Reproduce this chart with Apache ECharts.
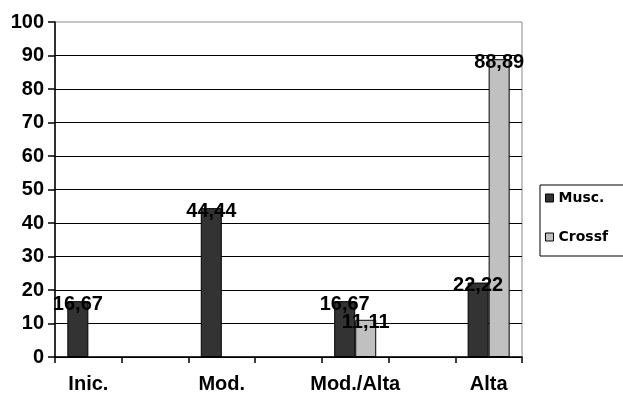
<!DOCTYPE html>
<html><head><meta charset="utf-8">
<script src="https://cdn.jsdelivr.net/npm/echarts@6/dist/echarts.min.js"></script>
<style>html,body{margin:0;padding:0;background:#fff}#c{width:623px;height:394px}</style>
</head><body><div id="c"></div>
<script>
const categories = ['Inic.', '', 'Mod.', '', 'Mod./Alta', '', 'Alta'];
const musc = [16.67, null, 44.44, null, 16.67, null, 22.22];
const crossfit = [null, null, null, null, 11.11, null, 88.89];
const seriesNames = ['Musc.', 'Crossfit'];
const yTicks = {min: 0, max: 100, interval: 10};

const FONT = "'Liberation Sans', Arial, sans-serif";
const chart = echarts.init(document.getElementById('c'), null, {renderer: 'canvas'});
const lbl = {
  show: true, position: 'top', distance: -13,
  fontFamily: FONT, fontWeight: 'bold', fontSize: 20, color: '#000',
  formatter: p => p.value == null ? '' : Number(p.value).toFixed(2).replace('.', ',')
};
chart.setOption({
  animation: false,
  backgroundColor: '#fff',
  grid: {left: 55, right: 101, top: 22, bottom: 36, show: true, borderColor: '#888', borderWidth: 1, backgroundColor: 'transparent'},
  legend: {
    orient: 'vertical', left: 540, top: 185,
    padding: [5, 40, 11, 5], itemGap: 23,
    itemWidth: 8, itemHeight: 8, icon: 'rect',
    borderColor: '#000', borderWidth: 1,
    itemStyle: {borderColor: '#000', borderWidth: 1},
    textStyle: {fontFamily: "'DejaVu Sans', sans-serif", fontWeight: 'bold', fontSize: 14, color: '#000', lineHeight: 16},
    formatter: n => n === 'Crossfit' ? 'Crossf' : n,
    data: seriesNames
  },
  xAxis: {
    type: 'category', data: categories,
    axisLine: {lineStyle: {color: '#000', width: 1.5}},
    axisTick: {show: true, interval: 0, length: 6, lineStyle: {color: '#000', width: 1.5}},
    axisLabel: {interval: 0, margin: 17, fontFamily: FONT, fontWeight: 'bold', fontSize: 20, color: '#000'},
    splitLine: {show: false}
  },
  yAxis: {
    type: 'value', min: yTicks.min, max: yTicks.max, interval: yTicks.interval,
    axisLine: {show: true, lineStyle: {color: '#000', width: 1.5}},
    axisTick: {show: true, length: 7, lineStyle: {color: '#000', width: 1.5}},
    axisLabel: {margin: 11, fontFamily: FONT, fontWeight: 'bold', fontSize: 20, color: '#000'},
    splitLine: {show: true, showMaxLine: false, lineStyle: {color: '#000', width: 1.2}}
  },
  series: [
    {name: seriesNames[0], type: 'bar', data: musc, barGap: '0%', barCategoryGap: '37%',
     itemStyle: {color: '#333333', borderColor: '#000', borderWidth: 1}, label: lbl},
    {name: seriesNames[1], type: 'bar', data: crossfit, barGap: '0%', barCategoryGap: '37%',
     itemStyle: {color: '#c0c0c0', borderColor: '#000', borderWidth: 1}, label: lbl}
  ]
});
</script></body></html>
